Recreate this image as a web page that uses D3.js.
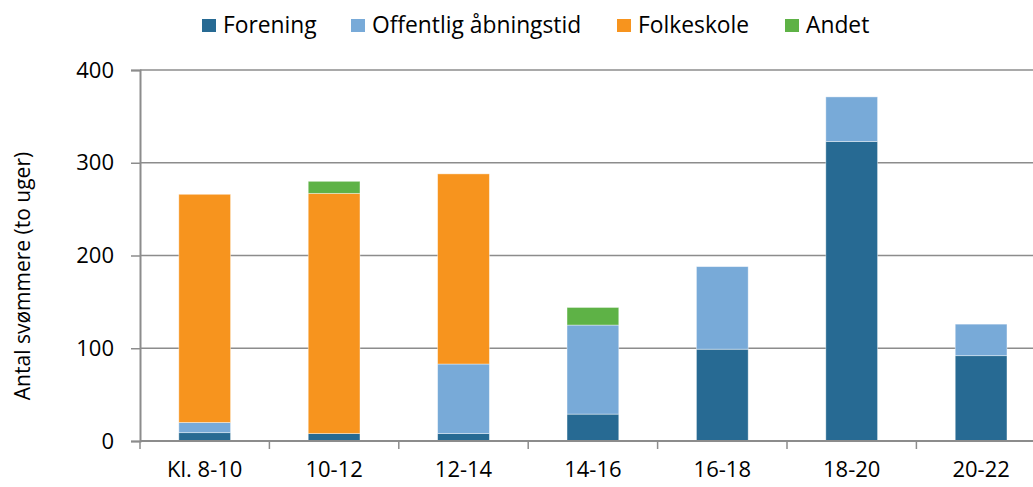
<!DOCTYPE html>
<html><head><meta charset="utf-8">
<script src="https://cdn.jsdelivr.net/npm/d3@7"></script>
<style>body{margin:0;background:#fff;overflow:hidden}svg{display:block}text{font-family:"Open Sans",sans-serif;fill:#000}</style>
</head><body><svg id="c" width="1033" height="487"></svg>
<script>
const categories = ["Kl. 8-10","10-12","12-14","14-16","16-18","18-20","20-22"];
const seriesNames = ["Forening","Offentlig åbningstid","Folkeskole","Andet"];
const forening   = [9, 8, 8, 29, 99, 323, 92];
const offentlig  = [11, 0, 75, 96, 89, 48, 34];
const folkeskole = [246, 259, 205, 0, 0, 0, 0];
const andet      = [0, 13, 0, 19, 0, 0, 0];
const yTicks = [0, 100, 200, 300, 400];
const colors = ["#276a93", "#78aad8", "#f7941e", "#5eb246"];

const rows = categories.map((c,i)=>({cat:c, "Forening":forening[i], "Offentlig åbningstid":offentlig[i], "Folkeskole":folkeskole[i], "Andet":andet[i]}));
const stack = d3.stack().keys(seriesNames)(rows);

const FONT = "Open Sans, sans-serif";
const svg = d3.select("#c");
const mLeft = 140, mTop = 70, mBottom = 441, bandW = 129.4;
const x = d3.scaleBand().domain(categories).range([mLeft, mLeft + bandW*categories.length]).paddingInner(0.6).paddingOuter(0.3);
const y = d3.scaleLinear().domain([0,400]).range([mBottom, mTop]);

// gridlines
svg.append("g").selectAll("line").data(yTicks.filter(t=>t>0)).join("line")
  .attr("x1", mLeft).attr("x2", 1040).attr("y1", d=>y(d)).attr("y2", d=>y(d))
  .attr("stroke", "#8c8c8c").attr("stroke-width", 1.5);

// bars
svg.append("g").selectAll("g").data(stack).join("g").attr("fill",(d,i)=>colors[i])
  .selectAll("rect").data(d=>d.filter(s=>s[1]-s[0]>0)).join("rect")
  .attr("x", d=>x(d.data.cat)).attr("width", x.bandwidth())
  .attr("y", d=>y(d[1])).attr("height", d=>y(d[0])-y(d[1]))
  .attr("stroke","#ffffff").attr("stroke-opacity",0.5).attr("stroke-width",0.8);

// y axis
const yAxis = svg.append("g").attr("transform",`translate(${mLeft},0)`)
  .call(d3.axisLeft(y).tickValues(yTicks).tickSize(9).tickPadding(17));
yAxis.select(".domain").attr("stroke","#8c8c8c").attr("stroke-width",2);
yAxis.selectAll(".tick line").attr("stroke","#8c8c8c").attr("stroke-width",1.5);
yAxis.selectAll(".tick text").attr("font-size",22).attr("font-family",FONT).attr("fill","#000");

// x axis
const xAxis = svg.append("g").attr("transform",`translate(0,${mBottom})`)
  .call(d3.axisBottom(x).tickSize(0).tickPadding(20));
xAxis.select(".domain").attr("stroke","#8c8c8c").attr("stroke-width",2).attr("d", `M${mLeft},0H1040`);
xAxis.selectAll(".tick text").attr("font-size",22).attr("font-family",FONT).attr("fill","#000");
svg.append("g").selectAll("line").data(d3.range(categories.length+1)).join("line")
  .attr("x1", i=>mLeft + i*bandW).attr("x2", i=>mLeft + i*bandW)
  .attr("y1", mBottom).attr("y2", mBottom+8).attr("stroke","#8c8c8c").attr("stroke-width",1.5);

// y label
svg.append("text").attr("transform","translate(30,276) rotate(-90)").attr("text-anchor","middle")
  .attr("font-size",21).text("Antal svømmere (to uger)");

// legend
const legendX = [202, 351, 617, 785];
const lg = svg.append("g").selectAll("g").data(seriesNames).join("g")
  .attr("transform",(d,i)=>`translate(${legendX[i]},19)`);
lg.append("rect").attr("width",14).attr("height",13).attr("fill",(d,i)=>colors[i]);
lg.append("text").attr("x",21).attr("y",14).attr("font-size",22.8).text(d=>d);
</script></body></html>
